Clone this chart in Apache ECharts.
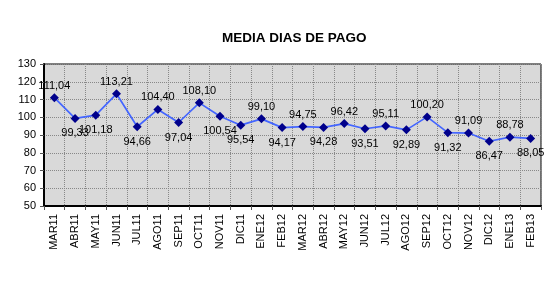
<!DOCTYPE html>
<html><head><meta charset="utf-8">
<script src="https://cdn.jsdelivr.net/npm/echarts@6/dist/echarts.min.js"></script>
<style>html,body{margin:0;padding:0;background:#fff}#c{width:556px;height:286px}</style>
</head><body><div id="c"></div>
<script>
const categories = ["MAR11","ABR11","MAY11","JUN11","JUL11","AGO11","SEP11","OCT11","NOV11","DIC11","ENE12","FEB12","MAR12","ABR12","MAY12","JUN12","JUL12","AGO12","SEP12","OCT12","NOV12","DIC12","ENE13","FEB13"];
const values = [111.04,99.33,101.18,113.21,94.66,104.40,97.04,108.10,100.54,95.54,99.10,94.17,94.75,94.28,96.42,93.51,95.11,92.89,100.20,91.32,91.09,86.47,88.78,88.05];
const labelSide = ["top","bottom","bottom","top","bottom","top","bottom","top","bottom","bottom","top","bottom","top","bottom","top","bottom","top","bottom","top","bottom","top","bottom","top","bottom"];
const yTicks = {min:50, max:130, interval:10};

const chart = echarts.init(document.getElementById('c'));
const font = 'Liberation Sans, Arial, sans-serif';
chart.setOption({
  animation:false,
  title:{text:'MEDIA DIAS DE PAGO', left:217, top:26, textStyle:{fontFamily:font, fontSize:13.5, fontWeight:'bold', color:'#000'}},
  grid:{left:44, right:15, top:64, bottom:80, show:true, backgroundColor:'#d9d9d9', borderColor:'#000', borderWidth:1},
  xAxis:{type:'category', data:categories, boundaryGap:true,
    axisLine:{lineStyle:{color:'#000', width:2}},
    axisTick:{show:true, length:4, lineStyle:{color:'#555'}},
    axisLabel:{rotate:90, interval:0, fontFamily:font, fontSize:11, color:'#000', margin:8},
    splitLine:{show:true, interval:0, lineStyle:{color:'#888', type:'dotted', width:1}}},
  yAxis:{type:'value', min:yTicks.min, max:yTicks.max, interval:yTicks.interval,
    axisLine:{show:true, lineStyle:{color:'#000', width:2}},
    axisTick:{show:true, length:4, lineStyle:{color:'#555'}},
    axisLabel:{fontFamily:font, fontSize:11, color:'#000', margin:8},
    splitLine:{show:true, lineStyle:{color:'#888', type:'dotted', width:1}}},
  series:[{type:'line', data:values.map((v,i)=>({value:v, label:{position:labelSide[i], distance: labelSide[i]==='top'?2:5}})),
    symbol:'diamond', symbolSize:9,
    lineStyle:{color:'#4466ff', width:1.7},
    itemStyle:{color:'#00008b'},
    label:{show:true, fontFamily:font, fontSize:11, color:'#000',
      formatter:p=>p.value.toFixed(2).replace('.',',')}}]
});
</script></body></html>
